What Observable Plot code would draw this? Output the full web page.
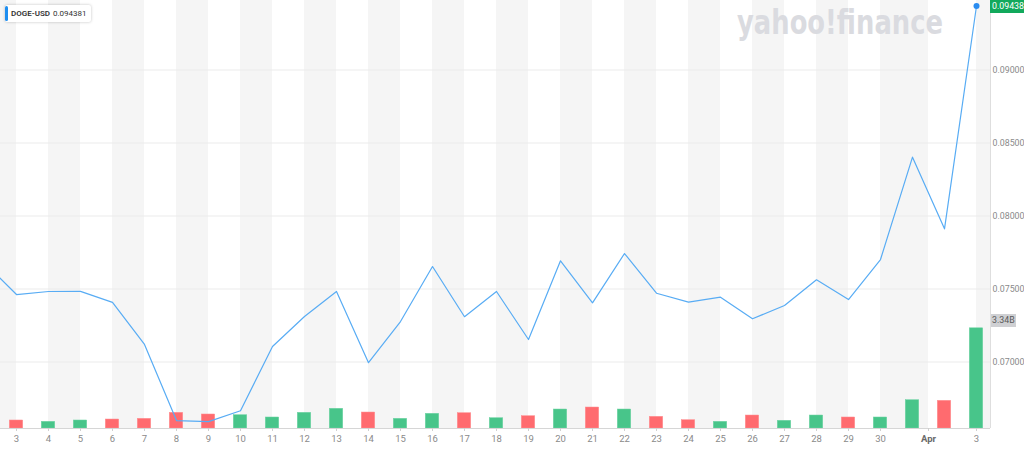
<!DOCTYPE html>
<html><head><meta charset="utf-8">
<script src="https://cdn.jsdelivr.net/npm/d3@7"></script>
<script src="https://cdn.jsdelivr.net/npm/@observablehq/plot@0.6"></script>
<style>
html,body{margin:0;padding:0;background:#fff;overflow:hidden}
#wrap{position:relative;width:1024px;height:467px;font-family:Roboto,"Liberation Sans",sans-serif}
#legend{position:absolute;left:5px;top:5px;height:17px;padding:0 4px 0 6px;background:#fff;box-shadow:0 0 3px rgba(0,0,0,.25);border-radius:2px;font-size:8px;line-height:17px;color:#333;white-space:nowrap}
#legend:before{content:"";position:absolute;left:0;top:1px;bottom:1px;width:3px;border-radius:2px;background:#1e8ef0}
#legend b{font-weight:600;margin-right:3px}
#wm{position:absolute;left:736px;top:1px;line-height:0}
.badge{position:absolute;font-size:8.8px;line-height:13px;height:13px;padding:0 1px;white-space:nowrap}
#pbadge{background:#12a95c;color:#fff;padding:0 2px}
#vbadge{background:#cfd0d3;color:#5a5a5a}
</style></head><body><div id="wrap"></div>
<script>
// Daily closes, Mar 2 (first, partly off-chart) .. last day
const closes = [0.07681, 0.07462, 0.07483, 0.07484, 0.07408, 0.07120, 0.06599, 0.06592, 0.06666, 0.07106,
  0.07312, 0.07483, 0.06995, 0.07277, 0.07654, 0.07310, 0.07483, 0.07154, 0.07693, 0.07405,
  0.07743, 0.07471, 0.07410, 0.07444, 0.07296, 0.07387, 0.07563, 0.07428, 0.07702, 0.08403,
  0.07912, 0.094381];
// Daily volume in billions (from Mar 3)
const volumesB = [0.267, 0.223, 0.267, 0.300, 0.323, 0.523, 0.467, 0.443, 0.367, 0.523,
  0.657, 0.533, 0.323, 0.490, 0.510, 0.343, 0.410, 0.633, 0.700, 0.633,
  0.390, 0.277, 0.223, 0.433, 0.257, 0.433, 0.367, 0.367, 0.943, 0.923, 3.34];
const tickLabels = ["3","4","5","6","7","8","9","10","11","12","13","14","15","16","17","18","19","20",
  "21","22","23","24","25","26","27","28","29","30","Apr","3"];
const tickPos = [0,1,2,3,4,5,6,7,8,9,10,11,12,13,14,15,16,17,18,19,20,21,22,23,24,25,26,27,28.5,30];
const priceTicks = [0.070, 0.075, 0.080, 0.085, 0.090];
const symbol = "DOGE-USD";
const lastPrice = 0.094381;
const lastVolume = "3.34B";

const W = 1024, H = 467, mR = 34, mB = 39;
const xDom = [-0.5, -0.5 + (W - mR) / 32];
const yDom = [0.065445, 0.09476];
const plotH = H - mB;
const pricePerPx = (yDom[1] - yDom[0]) / plotH;
const volPxPerB = 30;

const pts = closes.map((c, k) => ({i: k - 1, c}));
const bars = volumesB.map((v, k) => ({
  i: k, v,
  y1: yDom[0], y2: yDom[0] + v * volPxPerB * pricePerPx,
  up: closes[k + 1] >= closes[k]
}));
const bounds = [-1, ...tickPos, 31];
const stripes = [];
for (let j = 0; j < bounds.length - 1; j += 2) stripes.push({a: bounds[j], b: bounds[j + 1]});

const tickIndex = new Map(tickPos.map((p, k) => [p, tickLabels[k]]));
const fmtTick = d => tickIndex.get(d);

const chart = Plot.plot({
  width: W, height: H,
  marginLeft: 0, marginRight: mR, marginTop: 0, marginBottom: mB,
  style: {fontFamily: 'Roboto, "Liberation Sans", sans-serif', fontSize: "9.5px", background: "transparent"},
  x: {domain: xDom, axis: null},
  y: {domain: yDom, axis: null},
  marks: [
    Plot.rect(stripes, {x1: "a", x2: "b", y1: yDom[0], y2: yDom[1], fill: "#f5f5f5", clip: true}),
    Plot.ruleY(priceTicks, {stroke: "#ebebeb", strokeWidth: 1}),
    Plot.rect(bars, {x1: d => d.i - 0.21, x2: d => d.i + 0.21, y1: "y1", y2: "y2",
      fill: d => d.up ? "#48c58a" : "#ff6b6f", stroke: d => d.up ? "#6fd3a4" : "#ff8f92", strokeWidth: 0.5}),
    Plot.line(pts, {x: "i", y: "c", stroke: "#58acf4", strokeWidth: 1.2, clip: true}),
    Plot.dot(pts.slice(-1), {x: "i", y: "c", r: 3, fill: "#2a8cf0"}),
    Plot.ruleY([yDom[0]], {stroke: "#d6d6d6"}),
    Plot.ruleX([xDom[1]], {stroke: "#dedede"}),
    Plot.axisY(priceTicks, {anchor: "right", tickSize: 0, tickPadding: 2, tickFormat: d3.format(".5f"), fill: "#8a8a8a", fontSize: "8.8px"}),
    Plot.axisX(tickPos.filter(p => tickIndex.get(p) !== "Apr"), {anchor: "bottom", tickSize: 3, tickPadding: 4, tickFormat: fmtTick, stroke: "#cfcfcf", fill: "#8a8a8a", fontSize: "9.5px"}),
    Plot.axisX(tickPos.filter(p => tickIndex.get(p) === "Apr"), {anchor: "bottom", tickSize: 3, tickPadding: 4, tickFormat: fmtTick, stroke: "#cfcfcf", fill: "#6a6a6a", fontWeight: "bold", fontSize: "9.5px"})
  ]
});

const wrap = document.getElementById("wrap");
wrap.appendChild(chart);

// watermark
const wm = document.createElement("div");
wm.id = "wm";
wm.innerHTML = '<svg width="214" height="46" style="overflow:visible"><text x="1" y="33" textLength="206" lengthAdjust="spacingAndGlyphs" font-family="\'DejaVu Sans\', sans-serif" font-weight="bold" font-size="34" fill="#dadbe0">yahoo!finance</text></svg>';
wrap.appendChild(wm);

// legend
const lg = document.createElement("div");
lg.id = "legend";
lg.innerHTML = `<b>${symbol}</b>${lastPrice}`;
wrap.appendChild(lg);

// badges tied to scales
const sy = chart.scale("y"), sx = chart.scale("x");
const pb = document.createElement("div");
pb.className = "badge"; pb.id = "pbadge";
pb.textContent = d3.format(".5f")(lastPrice);
pb.style.left = sx.apply(xDom[1]) + "px";
pb.style.top = Math.max(0, sy.apply(lastPrice) - 6.5) + "px";
wrap.appendChild(pb);

const vb = document.createElement("div");
vb.className = "badge"; vb.id = "vbadge";
vb.textContent = lastVolume;
vb.style.left = (sx.apply(xDom[1]) + 1) + "px";
vb.style.top = (sy.apply(bars[bars.length - 1].y2) - 14) + "px";
wrap.appendChild(vb);
</script></body></html>
